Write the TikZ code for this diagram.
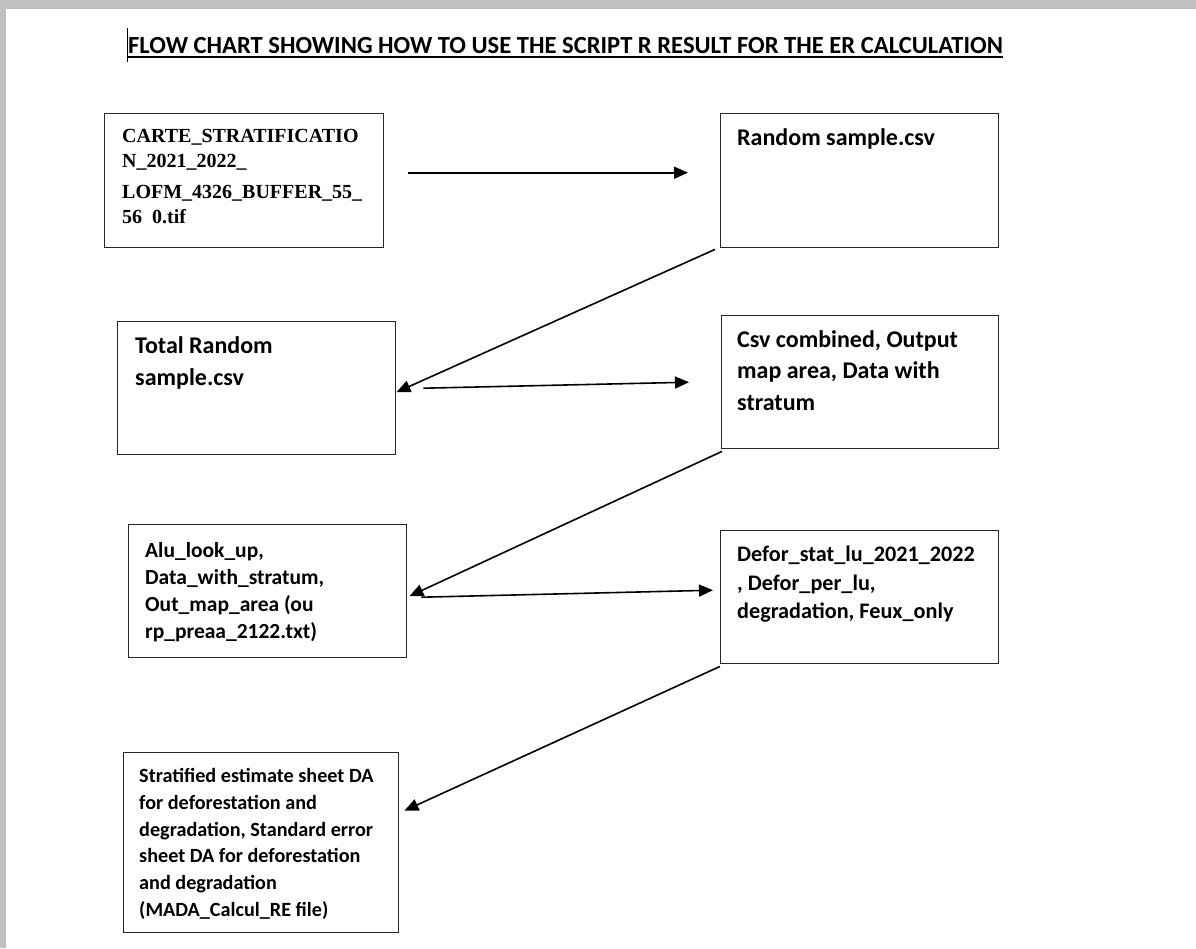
\documentclass[tikz,border=0pt]{standalone}
\usepackage{fontspec}
\setmainfont{Carlito}
\newfontfamily\serifbold{Liberation Serif}
\usetikzlibrary{arrows.meta,calc,positioning}

\definecolor{graybg}{RGB}{192,192,192}

\tikzset{
  filebox/.style={draw=black!85,line width=1.4pt,anchor=north west,inner sep=0pt},
  boxtext/.style={anchor=north west,inner sep=0pt,align=left},
  flow/.style={line width=1.6pt,-{Triangle[length=14pt,width=12pt]}},
}

\begin{document}
\begin{tikzpicture}[x=1pt,y=-1pt]
  \useasboundingbox (0,0) rectangle (1196,948);
  \fill[graybg] (0,0) rectangle (1196,9);
  \fill[graybg] (0,0) rectangle (6,948);

  % title
  \node[anchor=base west,inner sep=0pt,font=\fontsize{24.6}{28}\selectfont\bfseries] (title) at (128,53)
    {FLOW CHART SHOWING HOW TO USE THE SCRIPT R RESULT FOR THE ER CALCULATION};
  \draw[line width=1.5pt] ($(title.base west)+(0,4)$) -- ($(title.base east)+(0,4)$);
  \draw[line width=0.6pt] ($(title.base west)+(-1,-25)$) -- ($(title.base west)+(-1,9)$);

  % boxes
  \node[filebox,minimum width=279,minimum height=134] (carte) at (104,113) {};
  \node[boxtext,font={\serifbold\fontsize{20}{25}\selectfont\bfseries}] (cartetext)
    at ($(carte.north west)+(18,16)$)
    {CARTE\_STRATIFICATIO\\N\_2021\_2022\_\\[6pt]LOFM\_4326\_BUFFER\_55\_\\56\ \ 0.tif};

  \node[filebox,minimum width=278,minimum height=134] (random) at (720,113) {};
  \node[boxtext,font=\fontsize{24}{32}\selectfont\bfseries] (randomtext)
    at ($(random.north west)+(17,15)$) {Random sample.csv};

  \node[filebox,minimum width=278,minimum height=133] (total) at (117,321) {};
  \node[boxtext,font=\fontsize{24}{32}\selectfont\bfseries] (totaltext)
    at ($(total.north west)+(18,15)$) {Total Random\\sample.csv};

  \node[filebox,minimum width=277,minimum height=133] (csv) at (721,315) {};
  \node[boxtext,font=\fontsize{24}{31.5}\selectfont\bfseries] (csvtext)
    at ($(csv.north west)+(16,15)$) {Csv combined, Output\\map area, Data with\\stratum};

  \node[filebox,minimum width=278,minimum height=133] (alu) at (128,524) {};
  \node[boxtext,font=\fontsize{21.5}{27}\selectfont\bfseries] (alutext)
    at ($(alu.north west)+(17,18)$)
    {Alu\_look\_up,\\Data\_with\_stratum,\\Out\_map\_area (ou\\rp\_preaa\_2122.txt)};

  \node[filebox,minimum width=278,minimum height=133] (defor) at (720,530) {};
  \node[boxtext,font=\fontsize{22.2}{28.5}\selectfont\bfseries] (defortext)
    at ($(defor.north west)+(17,16)$)
    {Defor\_stat\_lu\_2021\_2022\\, Defor\_per\_lu,\\degradation, Feux\_only};

  \node[filebox,minimum width=275,minimum height=180] (strat) at (123,752) {};
  \node[boxtext,font=\fontsize{20.2}{26.8}\selectfont\bfseries] (strattext)
    at ($(strat.north west)+(16,16)$)
    {Stratified estimate sheet DA\\for deforestation and\\degradation, Standard error\\sheet DA for deforestation\\and degradation\\(MADA\_Calcul\_RE file)};

  % arrows
  \draw[flow] ($(carte.east)+(24,-8)$) -- ($(random.west)+(-32,-8)$);
  \draw[flow] ($(random.south west)+(-5,1)$) -- ($(total.east)+(0,4)$);
  \draw[flow] ($(total.east)+(27,0)$) -- ($(csv.west)+(-32,0)$);
  \draw[flow] ($(csv.south west)+(1,2)$) -- ($(alu.east)+(2,5)$);
  \draw[flow] ($(alu.east)+(14,6)$) -- ($(defor.west)+(-7,-7)$);
  \draw[flow] ($(defor.south west)+(0,2)$) -- ($(strat.east)+(5,-32)$);
\end{tikzpicture}
\end{document}
